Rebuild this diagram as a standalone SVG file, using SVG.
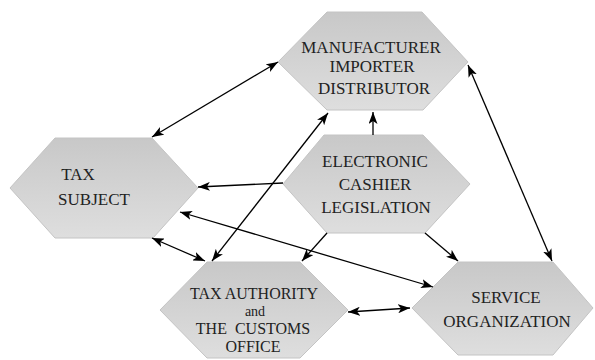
<svg xmlns="http://www.w3.org/2000/svg" width="595" height="360" viewBox="0 0 595 360">
<defs>
<linearGradient id="g" x1="0" y1="0" x2="0" y2="1">
<stop offset="0" stop-color="#c8c8c8"/>
<stop offset="1" stop-color="#dedede"/>
</linearGradient>
<marker id="ah" viewBox="0 0 12 9" refX="12" refY="4.5" markerWidth="12" markerHeight="9" markerUnits="userSpaceOnUse" orient="auto-start-reverse">
<path d="M0,0 L12,4.5 L0,9 L3,4.5 z" fill="#000"/>
</marker>
<style>
.hex{fill:url(#g);stroke:#c4c4c4;stroke-width:1}
.t{font-family:"Liberation Serif","Times New Roman",serif;font-size:17px;fill:#222;text-anchor:middle}
.s{font-size:16px}
.c{fill:none;stroke:#000;stroke-width:1.3}
.one{marker-end:url(#ah)}
.two{marker-start:url(#ah);marker-end:url(#ah)}
</style>
</defs>
<rect width="595" height="360" fill="#fff"/>
<g id="manufacturer">
<polygon class="hex" points="278,62 327,12 422,12 468,62 423,110 327,110"/>
<text class="t" x="371" y="53">MANUFACTURER</text>
<text class="t" x="372" y="72">IMPORTER</text>
<text class="t" x="374" y="94">DISTRIBUTOR</text>
</g>
<g id="electronic">
<polygon class="hex" points="283,184 324,135 423,135 470,184 425,233 327,233"/>
<text class="t" x="375" y="167">ELECTRONIC</text>
<text class="t" x="375" y="190">CASHIER</text>
<text class="t" x="376" y="213">LEGISLATION</text>
</g>
<g id="taxsubject">
<polygon class="hex" points="10,188 55,138 152,138 198,188 153,238 55,238"/>
<text class="t" x="78" y="180">TAX</text>
<text class="t" x="94" y="205">SUBJECT</text>
</g>
<g id="taxauthority">
<polygon class="hex" points="160,310 207,262 300,262 348,310 300,358 207,358"/>
<text class="t s" x="254" y="299">TAX AUTHORITY</text>
<text class="t" x="255" y="316" style="font-size:14px">and</text>
<text class="t s" x="253" y="334" style="white-space:pre">THE  CUSTOMS</text>
<text class="t s" x="253" y="352">OFFICE</text>
</g>
<g id="service">
<polygon class="hex" points="412,308 458,262 553,262 593,308 553,355 458,355"/>
<text class="t" x="506" y="303">SERVICE</text>
<text class="t" x="507" y="327">ORGANIZATION</text>
</g>
<g id="connectors">
<line class="c two" x1="152" y1="137" x2="278" y2="62"/>
<line class="c two" x1="468" y1="65" x2="552" y2="261"/>
<line class="c one" x1="373" y1="135" x2="373" y2="112"/>
<line class="c one" x1="283" y1="183" x2="198" y2="187"/>
<line class="c two" x1="212" y1="261" x2="328" y2="113"/>
<line class="c two" x1="180" y1="212" x2="433" y2="287"/>
<line class="c two" x1="152" y1="238" x2="205" y2="261"/>
<line class="c one" x1="327" y1="233" x2="302" y2="261"/>
<line class="c one" x1="425" y1="233" x2="458" y2="261"/>
<line class="c two" x1="348" y1="312" x2="410" y2="308"/>
</g>
</svg>
